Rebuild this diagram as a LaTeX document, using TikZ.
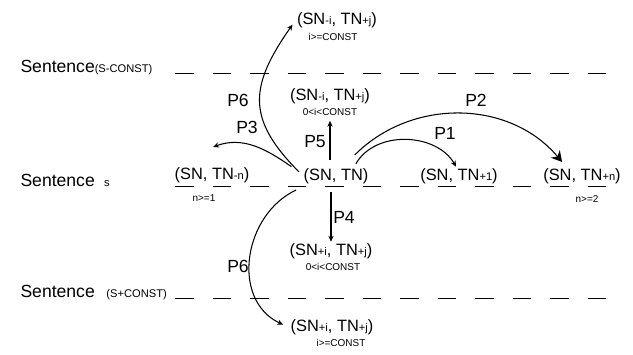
\documentclass[tikz,border=0pt]{standalone}
\usepackage{fontspec}
\setmainfont{Liberation Sans}
\usetikzlibrary{arrows.meta}
\newcommand{\idx}[1]{{\fontsize{9.5}{10}\selectfont #1}}
\tikzstyle{pair} = [inner sep=1pt, font=\fontsize{14}{16}\selectfont]
\tikzstyle{cond} = [inner sep=1pt, font=\fontsize{8.5}{10}\selectfont]
\tikzstyle{plabel} = [inner sep=1pt, font=\fontsize{15}{17}\selectfont]
\tikzstyle{sent} = [anchor=west, inner sep=0pt, font=\fontsize{15}{17}\selectfont]
\tikzstyle{sentline} = [line width=0.85pt, dash pattern=on 5.55mm off 5.7mm]

\begin{document}
\begin{tikzpicture}[x=0.3mm,y=0.3mm,>={Stealth[length=5pt,width=4.5pt]},line width=0.9pt]
    \useasboundingbox (0,0) rectangle (633,-354);

    %sentences
    \node[sent] (sprev) at (20,-68) {Sentence\idx{(S-CONST)}};
    \node[sent] (scur) at (20,-180) {Sentence\hspace{8pt}\idx{s}};
    \node[sent] (snext) at (20,-293) {Sentence\hspace{10pt}\idx{(S+CONST)}};
    \draw[sentline] (175,-73) -- (606,-73);
    \draw[sentline] (175,-186) -- (606,-186);
    \draw[sentline] (175,-298) -- (606,-298);

    %pairs in sentence s
    \node[pair] (tn) at (336,-176) {(SN, TN)};
    \node[pair] (tnm) at (212,-175) {(SN, TN\idx{-n})};
    \node[cond] (tnmc) at (204,-198) {n>=1};
    \node[pair] (tn1) at (459,-176) {(SN, TN\idx{+1})};
    \node[pair] (tnn) at (582,-176) {(SN, TN\idx{+n})};
    \node[cond] (tnnc) at (587,-199) {n>=2};

    %pairs in other sentences
    \node[pair] (upfar) at (337,-20) {(SN\idx{-i}, TN\idx{+j})};
    \node[cond] (upfarc) at (333,-37) {i>=CONST};
    \node[pair] (up) at (330,-96) {(SN\idx{-i}, TN\idx{+j})};
    \node[cond] (upc) at (330,-112) {0<i<CONST};
    \node[pair] (dn) at (331,-251) {(SN\idx{+i}, TN\idx{+j})};
    \node[cond] (dnc) at (333,-267) {0<i<CONST};
    \node[pair] (dnfar) at (332,-327) {(SN\idx{+i}, TN\idx{+j})};
    \node[cond] (dnfarc) at (341,-343) {i>=CONST};

    %moves
    \draw[->] ([xshift=17pt,yshift=2.5pt]tn.north) to[out=60,in=120] ([xshift=-2.5pt]tn1.north);
    \draw[-{Stealth[length=9pt,width=10pt]}] ([xshift=16pt,yshift=10pt]tn.north) to[out=45,in=130] ([xshift=-17pt,yshift=4pt]tnn.north);
    \draw[->] ([xshift=-9pt]tn.north west) to[out=145,in=20] ([xshift=1pt,yshift=16pt]tnm.north);
    \draw[->,shorten <=6pt,shorten >=3pt] (tn.north -| upc.south) -- (upc.south);
    \draw[->,shorten <=6pt] (tn.south -| dn.north) -- (dn.north);
    \draw[->] ([xshift=-2.5pt,yshift=3.5pt]tn.west) to[out=135,in=235,looseness=1.3] ([xshift=-2.5pt,yshift=-4pt]upfar.west);
    \draw[->] ([xshift=-5pt,yshift=-4pt]tn.south west) to[out=205,in=155,looseness=1.1] ([xshift=-5pt,yshift=2pt]dnfar.west);

    %move names
    \node[plabel] (p1) at (445,-133) {P1};
    \node[plabel] (p2) at (476,-100) {P2};
    \node[plabel] (p3) at (247,-127) {P3};
    \node[plabel] (p4) at (344,-217) {P4};
    \node[plabel] (p5) at (315,-142) {P5};
    \node[plabel] (p6a) at (238,-100) {P6};
    \node[plabel] (p6b) at (238,-266) {P6};

\end{tikzpicture}
\end{document}
